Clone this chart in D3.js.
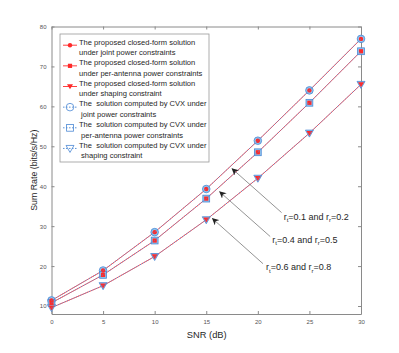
<!DOCTYPE html>
<html><head><meta charset="utf-8">
<script src="https://cdn.jsdelivr.net/npm/d3@7"></script>
<style>body{margin:0;background:#fff;} svg{display:block;font-family:"Liberation Sans",Arial,sans-serif;}</style>
</head><body>
<svg id="c" width="399" height="353"></svg>
<script>
const snr = [0, 5, 10, 15, 20, 25, 30];
const jointRate = [11.4, 18.9, 28.5, 39.3, 51.4, 64.0, 76.9];
const perAntennaRate = [10.8, 17.8, 26.4, 36.9, 48.5, 60.9, 73.8];
const shapingRate = [9.6, 15.1, 22.4, 31.6, 42.0, 53.3, 65.5];
const xTicks = [0, 5, 10, 15, 20, 25, 30];
const yTicks = [10, 20, 30, 40, 50, 60, 70, 80];
const legendLabels = [
  ["The proposed closed-form solution", "under joint power constraints"],
  ["The proposed closed-form solution", "under per-antenna power constraints"],
  ["The proposed closed-form solution", "under shaping constraint"],
  ["The  solution computed by CVX under", " joint power constraints"],
  ["The  solution computed by CVX under", " per-antenna power constraints"],
  ["The  solution computed by CVX under", " shaping constraint"]
];
const annotations = [
  {t: "0.1", r: "0.2", tip: [17.5, 44.4], tail: [22.3, 33.4], text: [22.5, 31.6]},
  {t: "0.4", r: "0.5", tip: [16.3, 38.6], tail: [21.2, 27.4], text: [21.4, 25.9]},
  {t: "0.6", r: "0.8", tip: [15.6, 31.9], tail: [20.5, 20.6], text: [20.8, 18.9]}
];

const svg = d3.select("#c");
const L = 51.5, R = 361, T = 26.5, B = 314;
const x = d3.scaleLinear().domain([0, 30]).range([L, R]);
const y = d3.scaleLinear().domain([8, 80]).range([B, T]);
const axisCol = "#8a8a8a", textCol = "#262626", red = "#ff2a2a", blue = "#4a88d4", lblue = "#92c6ef";

// axes
const gx = svg.append("g").attr("transform", `translate(0,${B})`).call(d3.axisBottom(x).tickValues(xTicks).tickSizeInner(-3).tickSizeOuter(0).tickPadding(6));
const gxt = svg.append("g").attr("transform", `translate(0,${T})`).call(d3.axisTop(x).tickValues(xTicks).tickSizeInner(-3).tickSizeOuter(0).tickFormat(""));
const gy = svg.append("g").attr("transform", `translate(${L},0)`).call(d3.axisLeft(y).tickValues(yTicks).tickSizeInner(-3).tickSizeOuter(0).tickPadding(5));
const gyr = svg.append("g").attr("transform", `translate(${R},0)`).call(d3.axisRight(y).tickValues(yTicks).tickSizeInner(-3).tickSizeOuter(0).tickFormat(""));
[gx, gxt, gy, gyr].forEach(g => {
  g.selectAll("path").attr("stroke", axisCol).attr("stroke-width", 1);
  g.selectAll("line").attr("stroke", axisCol);
  g.selectAll("text").attr("fill", "#555").style("font-size", "6px").style("font-family", "'Liberation Sans',Arial,sans-serif");
});

svg.append("text").attr("x", (L + R) / 2 + 0.5).attr("y", 338).attr("text-anchor", "middle")
  .attr("fill", textCol).style("font-size", "9.3px").text("SNR (dB)");
svg.append("text").attr("transform", `translate(37,${(T + B) / 2}) rotate(-90)`).attr("text-anchor", "middle")
  .attr("fill", textCol).style("font-size", "8.8px").text("Sum Rate (bits/s/Hz)");

const series = [jointRate, perAntennaRate, shapingRate];
const line = d3.line().x((d, i) => x(snr[i])).y(d => y(d));

// red solid lines
series.forEach(s => {
  svg.append("path").datum(s).attr("d", line).attr("fill", "none").attr("stroke", red).attr("stroke-width", 0.8);
});
// blue markers
function blueMarker(g, k, px, py, fill) {
  const f = fill === undefined ? lblue : fill;
  if (k === 0) g.append("circle").attr("cx", px).attr("cy", py).attr("r", 3.8).attr("fill", f).attr("stroke", blue).attr("stroke-width", 0.8);
  else if (k === 1) g.append("rect").attr("x", px - 3.4).attr("y", py - 3.4).attr("width", 6.8).attr("height", 6.8).attr("fill", f).attr("stroke", blue).attr("stroke-width", 0.8);
  else g.append("path").attr("d", `M${px - 4},${py - 3}L${px + 4},${py - 3}L${px},${py + 4}Z`).attr("fill", f).attr("stroke", blue).attr("stroke-width", 0.8);
}
function redMarker(g, k, px, py) {
  if (k === 0) g.append("circle").attr("cx", px).attr("cy", py).attr("r", 2.2).attr("fill", red);
  else if (k === 1) g.append("rect").attr("x", px - 2.1).attr("y", py - 2.1).attr("width", 4.2).attr("height", 4.2).attr("fill", red);
  else g.append("path").attr("d", `M${px - 3},${py - 2.2}L${px + 3},${py - 2.2}L${px},${py + 2.8}Z`).attr("fill", red);
}
const mg = svg.append("g");
series.forEach((s, k) => s.forEach((v, i) => blueMarker(mg, k, x(snr[i]), y(v))));
series.forEach((s, k) => s.forEach((v, i) => redMarker(mg, k, x(snr[i]), y(v))));
// blue dashed lines on top
series.forEach(s => {
  svg.append("path").datum(s).attr("d", line).attr("fill", "none").attr("stroke", blue).attr("stroke-width", 0.8).attr("stroke-dasharray", "1.2,1.2");
});

// annotations
svg.append("defs").append("marker").attr("id", "ah").attr("viewBox", "0 0 10 10").attr("refX", 9).attr("refY", 5)
  .attr("markerWidth", 7).attr("markerHeight", 7).attr("markerUnits", "userSpaceOnUse").attr("orient", "auto")
  .append("path").attr("d", "M0,0L10,5L0,10L3,5Z").attr("fill", "#222");
annotations.forEach(a => {
  svg.append("line").attr("x1", x(a.tail[0])).attr("y1", y(a.tail[1])).attr("x2", x(a.tip[0])).attr("y2", y(a.tip[1]))
    .attr("stroke", "#666").attr("stroke-width", 0.7).attr("marker-end", "url(#ah)");
  const t = svg.append("text").attr("x", x(a.text[0])).attr("y", y(a.text[1])).attr("fill", textCol).style("font-size", "9px");
  t.append("tspan").text("r");
  t.append("tspan").attr("dy", 2.2).style("font-size", "6px").text("t");
  t.append("tspan").attr("dy", -2.2).text("=" + a.t + " and r");
  t.append("tspan").attr("dy", 2.2).style("font-size", "6px").text("r");
  t.append("tspan").attr("dy", -2.2).text("=" + a.r);
});

// legend
const lg = svg.append("g");
lg.append("rect").attr("x", 60).attr("y", 34).attr("width", 149).attr("height", 128).attr("fill", "#fff").attr("stroke", "#999").attr("stroke-width", 0.8);
legendLabels.forEach((lab, k) => {
  const y0 = 41.7 + k * 20.65;
  const ym = y0 + 3.5;
  const sk = k % 3;
  if (k < 3) {
    lg.append("line").attr("x1", 63).attr("x2", 77).attr("y1", ym).attr("y2", ym).attr("stroke", red).attr("stroke-width", 0.9);
    redMarker(lg, sk, 70, ym);
  } else {
    blueMarker(lg, sk, 70, ym, "none");
    lg.append("line").attr("x1", 63).attr("x2", 77).attr("y1", ym).attr("y2", ym).attr("stroke", blue).attr("stroke-width", 0.9).attr("stroke-dasharray", "1.5,1.5");
  }
  lab.forEach((s, j) => {
    lg.append("text").attr("x", 79).attr("y", y0 + j * 10.4 + 2.8).attr("fill", textCol).style("font-size", "7.55px").style("white-space", "pre").text(s);
  });
});
</script>
</body></html>
